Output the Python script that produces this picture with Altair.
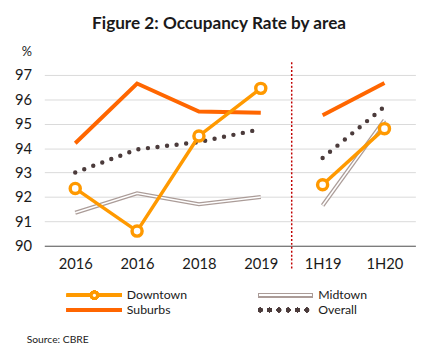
import altair as alt
import pandas as pd

categories = ["2016", "2016", "2018", "2019", "1H19", "1H20"]
segments = ["A", "A", "A", "A", "B", "B"]
downtown = [92.35, 90.6, 94.5, 96.45, 92.5, 94.8]
midtown = [91.35, 92.15, 91.7, 92.0, 91.65, 95.15]
suburbs = [94.2, 96.65, 95.5, 95.45, 95.35, 96.67]
overall = [93.0, 93.95, 94.25, 94.78, 93.6, 95.7]
y_ticks = [90, 91, 92, 93, 94, 95, 96, 97]

C_DOWN = "#FF9900"
C_SUB = "#FF6600"
C_MID = "#AB9C98"
C_ALL = "#4B3B3B"
FONT = "Lato"

rows = []
for name, vals in [("Downtown", downtown), ("Midtown", midtown), ("Suburbs", suburbs), ("Overall", overall)]:
    for i, v in enumerate(vals):
        rows.append({"idx": i, "label": categories[i], "seg": segments[i], "series": name, "value": v})
df = pd.DataFrame(rows)

label_expr = "[" + ",".join(f"'{c}'" for c in categories) + "][datum.value]"

x = alt.X("idx:Q", scale=alt.Scale(domain=[-0.5, 5.5], nice=False, zero=False),
          axis=alt.Axis(values=list(range(6)), labelExpr=label_expr, title=None, grid=False,
                        ticks=False, domainColor="#595959", domainWidth=1, labelOverlap=False,
                        labelFont=FONT, labelFontSize=15, labelColor="#1a1a1a", labelPadding=11))
y = alt.Y("value:Q", scale=alt.Scale(domain=[90, 97], nice=False, zero=False),
          axis=alt.Axis(values=y_ticks, title=None, domain=False, ticks=False, gridColor="#D9D9D9",
                        gridWidth=1, labelOverlap=False, labelFont=FONT, labelFontSize=15,
                        labelColor="#1a1a1a", labelPadding=13))

base = alt.Chart(df)

def series_line(name, **kw):
    return base.transform_filter(alt.datum.series == name).mark_line(**kw).encode(
        x=x, y=y, detail="seg:N")

mid_outer = series_line("Midtown", color=C_MID, strokeWidth=4.2)
mid_inner = series_line("Midtown", color="white", strokeWidth=1.6)
overall_l = series_line("Overall", color=C_ALL, strokeWidth=4.5, strokeDash=[0, 9.8], strokeCap="round")
suburbs_l = series_line("Suburbs", color=C_SUB, strokeWidth=4)
down_l = series_line("Downtown", color=C_DOWN, strokeWidth=3.5)
down_p = base.transform_filter(alt.datum.series == "Downtown").mark_point(
    shape="circle", size=105, filled=True, fill="white", stroke=C_DOWN, strokeWidth=3.5, opacity=1
).encode(x=x, y=y)

sep_df = pd.DataFrame({"idx": [3.5], "value": [97.52], "value2": [89.07]})
sep = alt.Chart(sep_df).mark_rule(color="#C00000", strokeWidth=1.5, strokeDash=[2, 2]).encode(
    x=x, y=y, y2="value2:Q")

# legend
leg_y1, leg_y2 = 224.5, 239.5
legend_layers = [
    alt.Chart(df).mark_rule(color=C_DOWN, strokeWidth=3.5).encode(x=alt.value(23), x2=alt.value(79), y=alt.value(leg_y1)),
    alt.Chart(df).mark_point(shape="circle", size=40, filled=True, fill="white", stroke=C_DOWN, strokeWidth=3, opacity=1).encode(x=alt.value(51), y=alt.value(leg_y1)),
    alt.Chart(df).mark_rule(color=C_SUB, strokeWidth=4).encode(x=alt.value(23), x2=alt.value(79), y=alt.value(leg_y2)),
    alt.Chart(df).mark_rule(color=C_MID, strokeWidth=4.2).encode(x=alt.value(218), x2=alt.value(273), y=alt.value(leg_y1)),
    alt.Chart(df).mark_rule(color="white", strokeWidth=1.6).encode(x=alt.value(219), x2=alt.value(272), y=alt.value(leg_y1)),
    alt.Chart(df).mark_rule(color=C_ALL, strokeWidth=4.5, strokeDash=[0, 9.5], strokeCap="round").encode(x=alt.value(220), x2=alt.value(272), y=alt.value(leg_y2)),
]
texts = [
    ("Downtown", 84, leg_y1, 12.5, "normal", "left"),
    ("Suburbs", 84, leg_y2, 12.5, "normal", "left"),
    ("Midtown", 279, leg_y1, 12.5, "normal", "left"),
    ("Overall", 279, leg_y2, 12.5, "normal", "left"),
    ("Source: CBRE", -18, 270, 10.5, "normal", "left"),
    ("%", -23, -23, 13, "normal", "left"),
    ("Figure 2: Occupancy Rate by area", 178, -52, 17.5, "bold", "center"),
]
for t, tx, ty, fs, fw, al in texts:
    legend_layers.append(
        alt.Chart(pd.DataFrame({"t": [t]})).mark_text(
            font=FONT, fontSize=fs, fontWeight=fw, align=al, baseline="middle", color="#1a1a1a"
        ).encode(text="t:N", x=alt.value(tx), y=alt.value(ty))
    )

chart = alt.layer(
    mid_outer, mid_inner, overall_l, suburbs_l, down_l, down_p, sep, *legend_layers
).properties(
    width=378, height=174,
    padding={"left": 37, "top": 65, "right": 21, "bottom": 104},
    autosize=alt.AutoSizeParams(type="none"),
    background="white",
).configure_view(stroke=None)

chart.save("out.html", embed_options={"renderer": "svg", "actions": False})
